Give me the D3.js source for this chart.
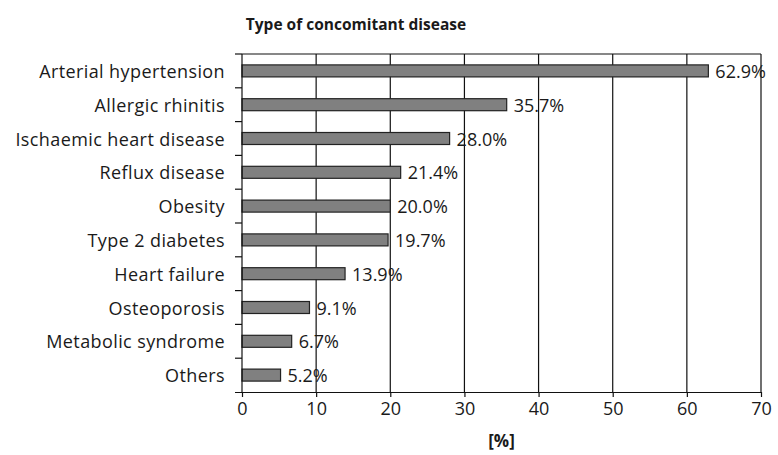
<!DOCTYPE html>
<html>
<head>
<meta charset="utf-8">
<script src="https://cdn.jsdelivr.net/npm/d3@7"></script>
<style>
  body { margin: 0; background: #fff; }
  text { font-family: "Open Sans", sans-serif; fill: #1a1a1a; }
</style>
</head>
<body>
<svg id="chart" width="778" height="455"></svg>
<script>
// Data
const categories = ["Arterial hypertension", "Allergic rhinitis", "Ischaemic heart disease",
  "Reflux disease", "Obesity", "Type 2 diabetes", "Heart failure", "Osteoporosis",
  "Metabolic syndrome", "Others"];
const values = [62.9, 35.7, 28.0, 21.4, 20.0, 19.7, 13.9, 9.1, 6.7, 5.2];
const xTicks = [0, 10, 20, 30, 40, 50, 60, 70];

const svg = d3.select("#chart");
const margin = { left: 242, right: 17, top: 54, bottom: 63 };
const W = 778, H = 455;

const x = d3.scaleLinear().domain([0, 70]).range([margin.left, W - margin.right]);
const y = d3.scaleBand().domain(categories).range([margin.top, H - margin.bottom]);

// vertical grid lines
svg.append("g").selectAll("line")
  .data(xTicks.slice(1))
  .join("line")
  .attr("x1", d => x(d)).attr("x2", d => x(d))
  .attr("y1", margin.top).attr("y2", H - margin.bottom)
  .style("stroke", "#111").style("stroke-width", 1.2);

// top border
svg.append("line")
  .attr("x1", x(0)).attr("x2", x(70))
  .attr("y1", margin.top).attr("y2", margin.top)
  .style("stroke", "#111").style("stroke-width", 1.2);

// bars
const barH = 12;
svg.append("g").selectAll("rect")
  .data(values)
  .join("rect")
  .attr("x", x(0))
  .attr("y", (d, i) => y(categories[i]) + y.bandwidth() / 2 - barH / 2)
  .attr("width", d => x(d) - x(0))
  .attr("height", barH)
  .style("fill", "#808080")
  .style("stroke", "#222")
  .style("stroke-width", 1.2);

// value labels
svg.append("g").selectAll("text")
  .data(values)
  .join("text")
  .attr("x", d => x(d) + 7)
  .attr("y", (d, i) => y(categories[i]) + y.bandwidth() / 2 + 7)
  .style("font-size", "18px")
  .text(d => d.toFixed(1) + "%");

// x axis
const xAxis = svg.append("g")
  .attr("transform", `translate(0,${H - margin.bottom})`)
  .call(d3.axisBottom(x).tickValues(xTicks).tickSize(5).tickPadding(5));
xAxis.select(".domain").attr("d", `M${x(0) - 7},0.5H${x(70)}`).style("stroke", "#111").style("stroke-width", 1.2);
xAxis.selectAll("line").style("stroke", "#111").style("stroke-width", 1.2);
xAxis.selectAll("text").style("font-size", "18px").style("font-family", "Open Sans, sans-serif").attr("fill", "#1a1a1a");

// y axis with ticks between categories
const yAxis = svg.append("g").attr("transform", `translate(${x(0)},0)`);
yAxis.append("line")
  .attr("x1", 0).attr("x2", 0)
  .attr("y1", margin.top).attr("y2", H - margin.bottom)
  .style("stroke", "#111").style("stroke-width", 1.2);
yAxis.selectAll("line.tk")
  .data(categories)
  .join("line")
  .attr("class", "tk")
  .attr("x1", -7).attr("x2", 0)
  .attr("y1", d => y(d)).attr("y2", d => y(d))
  .style("stroke", "#111").style("stroke-width", 1.2);
yAxis.selectAll("text")
  .data(categories)
  .join("text")
  .attr("x", -17)
  .attr("y", d => y(d) + y.bandwidth() / 2 + 7)
  .attr("text-anchor", "end")
  .style("font-size", "18px")
  .style("letter-spacing", "0.4px")
  .text(d => d);

// title and axis label
svg.append("text")
  .attr("x", 356).attr("y", 30)
  .attr("text-anchor", "middle")
  .style("font-size", "15.5px").style("font-weight", "bold")
  .text("Type of concomitant disease");
svg.append("text")
  .attr("x", x(35)).attr("y", 447)
  .attr("text-anchor", "middle")
  .style("font-size", "17px").style("font-weight", "bold")
  .text("[%]");
</script>
</body>
</html>
